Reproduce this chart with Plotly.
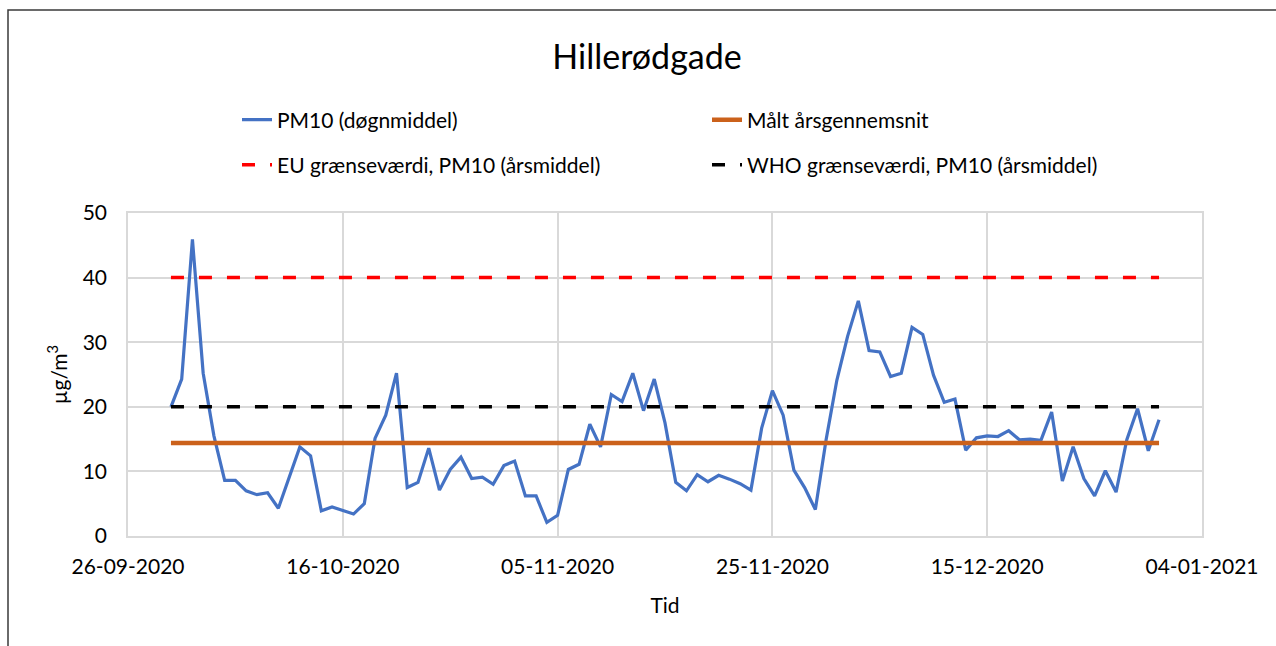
import pandas as pd
import plotly.graph_objects as go

# ---------------- data ----------------
start_date = "2020-09-30"
pm10_daily = [
    20.0, 24.3, 45.9, 25.2, 15.5, 8.6, 8.6, 7.0, 6.4, 6.7,
    4.3, 9.2, 13.8, 12.4, 3.9, 4.5, 4.0, 3.4, 5.0, 15.1,
    18.7, 25.2, 7.5, 8.3, 13.6, 7.1, 10.3, 12.2, 8.9, 9.1,
    8.0, 10.9, 11.6, 6.2, 6.2, 2.1, 3.2, 10.3, 11.1, 17.3,
    13.8, 21.9, 20.8, 25.2, 19.4, 24.3, 17.5, 8.3, 7.0, 9.5,
    8.4, 9.4, 8.8, 8.1, 7.1, 16.7, 22.5, 18.7, 10.2, 7.5,
    4.1, 14.9, 24.1, 30.9, 36.4, 28.7, 28.5, 24.7, 25.2, 32.3,
    31.2, 24.9, 20.7, 21.2, 13.3, 15.2, 15.5, 15.4, 16.3, 14.9,
    15.0, 14.8, 19.2, 8.5, 13.8, 8.9, 6.2, 10.1, 6.8, 14.9,
    19.7, 13.2, 18.0,
]
annual_mean = 14.4
eu_limit = 40
who_limit = 20

series_names = [
    "PM10 (døgnmiddel)",
    "Målt årsgennemsnit",
    "EU grænseværdi, PM10 (årsmiddel)",
    "WHO grænseværdi, PM10 (årsmiddel)",
]
tick_dates = ["2020-09-26", "2020-10-16", "2020-11-05", "2020-11-25", "2020-12-15", "2021-01-04"]
tick_labels = ["26-09-2020", "16-10-2020", "05-11-2020", "25-11-2020", "15-12-2020", "04-01-2021"]
y_ticks = [0, 10, 20, 30, 40, 50]

dates = pd.date_range(start_date, periods=len(pm10_daily), freq="D")
n = len(dates)

FONT = "Lato, Carlito, sans-serif"
TXT = "#000000"

fig = go.Figure()
fig.add_trace(go.Scatter(x=dates, y=pm10_daily, mode="lines", name=series_names[0],
                         line=dict(color="#4472C4", width=3.2), legend="legend"))
fig.add_trace(go.Scatter(x=dates, y=[annual_mean] * n, mode="lines", name=series_names[1],
                         line=dict(color="#CB611B", width=4.5), legend="legend"))
fig.add_trace(go.Scatter(x=dates, y=[eu_limit] * n, mode="lines", name=series_names[2],
                         line=dict(color="#FF0000", width=3.5, dash="13px,15px"), legend="legend2"))
fig.add_trace(go.Scatter(x=dates, y=[who_limit] * n, mode="lines", name=series_names[3],
                         line=dict(color="#000000", width=3.5, dash="13px,15px"), legend="legend2"))

L, R, T, B = 128, 74, 213, 110
W, H = 1276, 646
pw, ph = W - L - R, H - T - B

def px_x(p):
    return (p - L) / pw

def px_y(p):
    return (H - B - p) / ph

legend_common = dict(orientation="h", xanchor="left", yanchor="middle",
                     entrywidth=425, entrywidthmode="pixels",
                     font=dict(family=FONT, size=21, color=TXT),
                     bgcolor="rgba(0,0,0,0)", itemclick=False)

fig.update_layout(
    width=W, height=H,
    margin=dict(l=L, r=R, t=T, b=B),
    paper_bgcolor="white", plot_bgcolor="white",
    font=dict(family=FONT, size=21, color=TXT),
    title=dict(text="Hillerødgade", x=647 / W, xanchor="center", y=1 - 57 / H, yanchor="middle",
               font=dict(family=FONT, size=34, color=TXT)),
    legend=dict(x=px_x(237), y=px_y(120), **legend_common),
    legend2=dict(x=px_x(237), y=px_y(165), **legend_common),
    xaxis=dict(type="date", range=[tick_dates[0], tick_dates[-1]],
               tickmode="array", tickvals=tick_dates, ticktext=tick_labels,
               showgrid=True, gridcolor="#d9d9d9", gridwidth=1.5,
               showline=True, linecolor="#d9d9d9", linewidth=1.5, mirror=True,
               ticks="", ticklabelstandoff=11, zeroline=False,
               tickfont=dict(family=FONT, size=21, color=TXT),
               title=dict(text="Tid", standoff=21, font=dict(family=FONT, size=21, color=TXT))),
    yaxis=dict(range=[0, 50], tickmode="array", tickvals=y_ticks,
               showgrid=True, gridcolor="#d9d9d9", gridwidth=1.5,
               showline=True, linecolor="#d9d9d9", linewidth=1.5, mirror=True,
               ticks="", ticklabelstandoff=15, zeroline=False,
               tickfont=dict(family=FONT, size=21, color=TXT),
               title=dict(text="µg/m<sup>3</sup>", standoff=9, font=dict(family=FONT, size=21, color=TXT))),
    showlegend=True,
)

# outer chart-area frame
fig.add_shape(type="rect", xref="paper", yref="paper",
              x0=px_x(8), x1=px_x(1300), y0=px_y(680), y1=px_y(10),
              line=dict(color="#3a3a3a", width=1.5), fillcolor="rgba(0,0,0,0)", layer="below")

fig.write_html("out.html", config={"displayModeBar": False},
               post_script="document.body.style.margin='0';document.body.style.overflow='hidden';")
